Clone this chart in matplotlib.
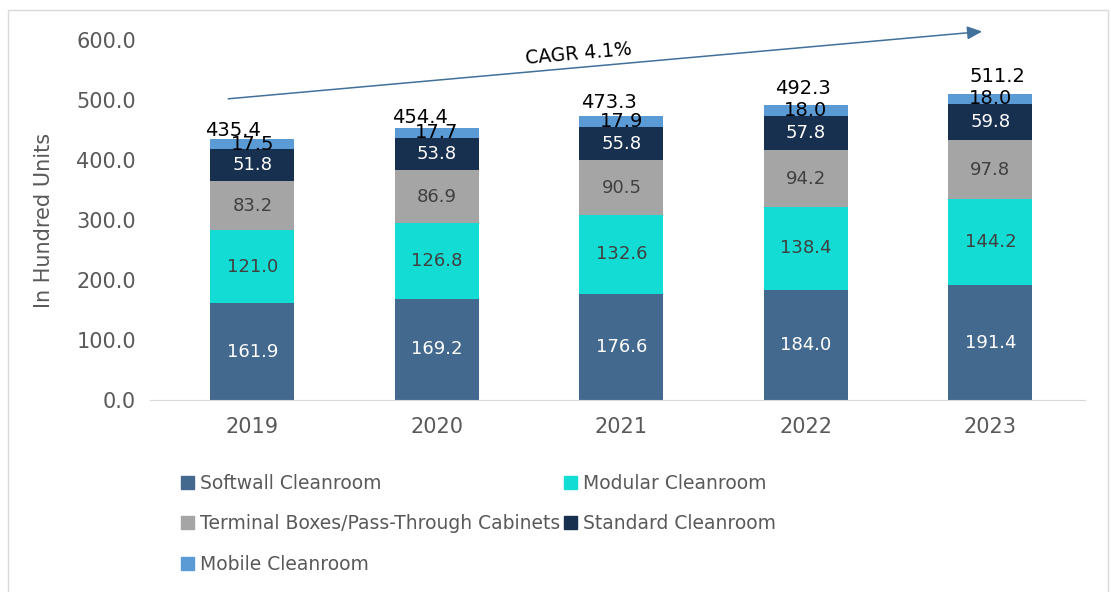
import numpy as np
import matplotlib
matplotlib.use("Agg")
import matplotlib.pyplot as plt
from matplotlib.patches import Rectangle, Patch
from matplotlib.transforms import offset_copy

years = ["2019", "2020", "2021", "2022", "2023"]
softwall = [161.9, 169.2, 176.6, 184.0, 191.4]
modular = [121.0, 126.8, 132.6, 138.4, 144.2]
terminal = [83.2, 86.9, 90.5, 94.2, 97.8]
standard = [51.8, 53.8, 55.8, 57.8, 59.8]
mobile = [17.5, 17.7, 17.9, 18.0, 18.0]
totals = [435.4, 454.4, 473.3, 492.3, 511.2]

series_names = ["Softwall Cleanroom", "Modular Cleanroom",
                "Terminal Boxes/Pass-Through Cabinets", "Standard Cleanroom",
                "Mobile Cleanroom"]
colors = ["#44698f", "#12dcd3", "#a5a5a5", "#17304f", "#5b9bd5"]
label_colors = ["white", "#404040", "#404040", "white", "black"]

# hand placed total labels in the original (points)
total_dx = [-14, -12, -9, -2, 5]
total_dy = [6, 7, 10, 12, 12]

plt.rcParams["font.family"] = ["DejaVu Sans"]

fig = plt.figure(figsize=(11.11, 5.92), dpi=100)
ax = fig.add_axes([0.135, 0.324, 0.842, 0.608])

x = np.arange(len(years))
width = 0.455
bottom = np.zeros(len(years))
all_series = [softwall, modular, terminal, standard, mobile]
for vals, col, lc, name in zip(all_series, colors, label_colors, series_names):
    vals = np.array(vals)
    ax.bar(x, vals, width, bottom=bottom, color=col, label=name)
    for xi, b, v in zip(x, bottom, vals):
        fs = 14 if lc == "black" else 13
        ax.text(xi, b + v / 2, f"{v:.1f}", ha="center", va="center",
                color=lc, fontsize=fs)
    bottom += vals

for xi, t, dx, dy in zip(x, totals, total_dx, total_dy):
    tr = offset_copy(ax.transData, fig=fig, x=dx, y=dy, units="points")
    ax.text(xi, t, f"{t:.1f}", ha="center", va="center", fontsize=14,
            color="black", transform=tr)

# CAGR arrow
ax.annotate("", xy=(3.97, 615), xytext=(-0.146, 502),
            arrowprops=dict(arrowstyle="-|>,head_length=0.9,head_width=0.4",
                            color="#41709a", lw=1.1),
            annotation_clip=False)
ax.text(1.77, 578, "CAGR 4.1%", rotation=5, ha="center", va="center",
        fontsize=13.5, color="black")

ax.set_xlim(-0.555, 4.515)
ax.set_ylim(0, 600)
ax.set_yticks(np.arange(0, 601, 100))
ax.set_yticklabels([f"{v:.1f}" for v in np.arange(0, 601, 100)])
ax.set_xticks(x)
ax.set_xticklabels(years)
ax.tick_params(axis="both", length=0, labelsize=15, colors="#595959")
ax.tick_params(axis="y", pad=10)
ax.tick_params(axis="x", pad=12)
for s in ["top", "right", "left"]:
    ax.spines[s].set_visible(False)
ax.spines["bottom"].set_color("#d9d9d9")
ax.set_ylabel("In Hundred Units", fontsize=15, color="#595959", labelpad=16)

handles = [Patch(color=c) for c in colors]
order = [0, 2, 4, 1, 3]
leg = fig.legend([handles[i] for i in order], [series_names[i] for i in order],
                 ncol=2, loc="upper left", bbox_to_anchor=(0.148, 0.228),
                 frameon=False, fontsize=13.5, handlelength=0.7,
                 handleheight=0.7, handletextpad=0.3, columnspacing=0.2,
                 labelspacing=1.15, labelcolor="#595959")

fig.patches.append(Rectangle((0.007, -0.01), 0.99, 0.993, transform=fig.transFigure,
                             fill=False, edgecolor="#d9d9d9", lw=1))

fig.savefig("out.png", dpi=100)
